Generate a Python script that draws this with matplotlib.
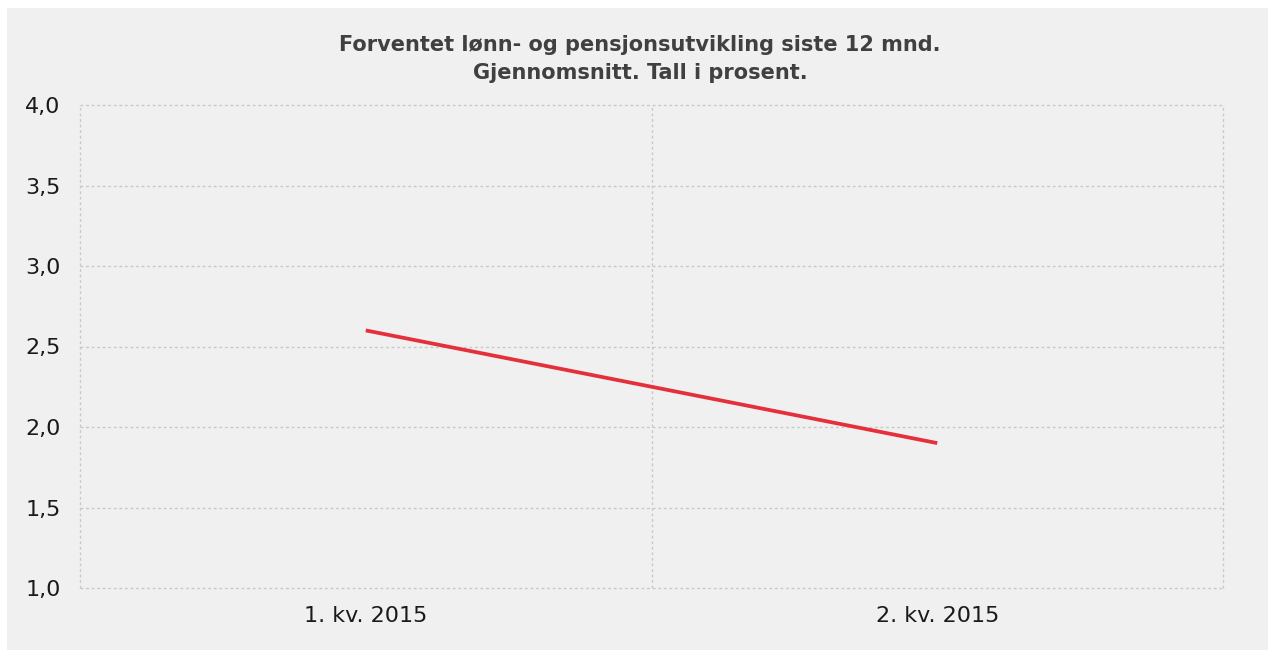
import matplotlib
matplotlib.use("Agg")
import matplotlib.pyplot as plt
from matplotlib.patches import Rectangle

categories = ["1. kv. 2015", "2. kv. 2015"]
values = [2.6, 1.9]
yticks = [1.0, 1.5, 2.0, 2.5, 3.0, 3.5, 4.0]
title = "Forventet lønn- og pensjonsutvikling siste 12 mnd.\nGjennomsnitt. Tall i prosent."

W, H = 1268, 650
bg = "#f0f0f0"
grid_c = "#c8c8c8"
fig = plt.figure(figsize=(W / 100, H / 100), dpi=100)
fig.patch.set_facecolor(bg)
fig.patches.append(Rectangle((0, 0), 7 / W, 1, transform=fig.transFigure,
                             facecolor="white", edgecolor="none", zorder=-5))
fig.patches.append(Rectangle((0, 1 - 8 / H), 1, 8 / H, transform=fig.transFigure,
                             facecolor="white", edgecolor="none", zorder=-5))

ax = fig.add_axes([80 / W, 1 - 588 / H, (1223 - 80) / W, (588 - 105) / H])
ax.set_facecolor(bg)

x = [i + 0.5 for i in range(len(categories))]
ax.plot(x, values, color="#e5303c", linewidth=2.7, solid_capstyle="butt", zorder=3)

ax.set_xlim(0, len(categories))
ax.set_ylim(1.0, 4.0)
ax.set_yticks(yticks)
ax.set_yticklabels([f"{v:.1f}".replace(".", ",") for v in yticks])
ax.set_xticks(x)
ax.set_xticklabels(categories)

for s in ax.spines.values():
    s.set_visible(False)
for yv in yticks:
    ax.axhline(yv, color=grid_c, linestyle=(0, (2, 2)), linewidth=1, clip_on=False, zorder=1)
for xv in range(len(categories) + 1):
    ax.axvline(xv, color=grid_c, linestyle=(0, (2, 2)), linewidth=1, clip_on=False, zorder=1)
ax.tick_params(axis="both", which="both", length=0, labelsize=16, colors="#1a1a1a")
ax.tick_params(axis="y", pad=14)
ax.tick_params(axis="x", pad=13)

fig.text(640 / W, 1 - 59 / H, title, ha="center", va="center",
         fontsize=15, fontweight="bold", color="#404040", linespacing=1.45)

fig.savefig("out.png", dpi=100, facecolor=fig.get_facecolor())
